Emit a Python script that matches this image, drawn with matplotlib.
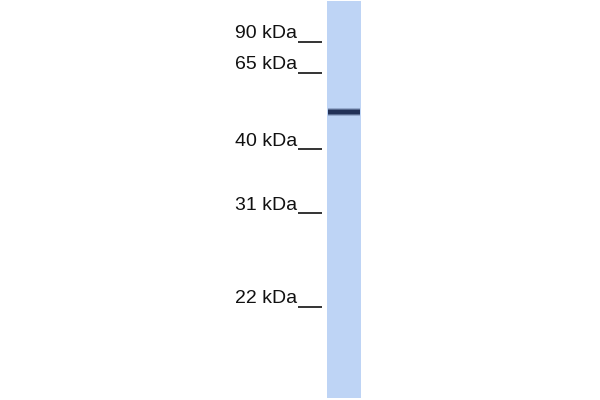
import matplotlib.pyplot as plt

# marker ladder (kDa) and where each tick sits on the blot (pixel rows)
marker_labels = ['90 kDa', '65 kDa', '40 kDa', '31 kDa', '22 kDa']
marker_rows = [41.5, 72.5, 149, 213, 306.5]

# single lane, single band
lane_top = 1
lane_bottom = 398
band_row = 112
band_strength = 0.95

fig = plt.figure(figsize=(6, 4), dpi=100)
ax = fig.add_axes([0, 0, 1, 1])
ax.set_xlim(0, 600)
ax.set_ylim(400, 0)
ax.axis('off')

lane_left, lane_w = 327, 34

# lane background
ax.bar(lane_left + lane_w / 2, lane_bottom - lane_top, bottom=lane_top,
       width=lane_w, color='#bed4f5', edgecolor='none')

# band, a few soft layers so the edges fade into the lane
for h, a in [(8, 0.25), (6, 0.5), (4, 0.85)]:
    ax.barh(band_row, width=lane_w - 2, left=lane_left + 1, height=h,
            color='#15244a', alpha=a * band_strength, edgecolor='none')

# marker labels with their little tick lines
for lab, y in zip(marker_labels, marker_rows):
    ax.text(297, y - 3.5, lab, ha='right', va='baseline', fontsize=14,
            family='Liberation Sans', color='#111111')
    ax.hlines(y, 298, 322, color='#111111', linewidth=1.2)

fig.savefig('out.png', dpi=100)
